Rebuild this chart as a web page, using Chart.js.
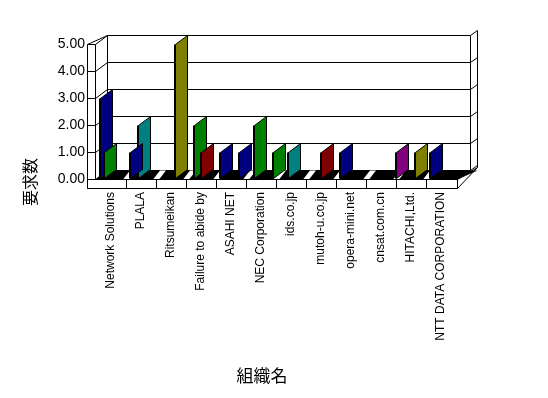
<!DOCTYPE html>
<html>
<head>
<meta charset="utf-8">
<script src="https://cdn.jsdelivr.net/npm/chart.js@4.4.1/dist/chart.umd.min.js"></script>
<style>
  html, body { margin: 0; padding: 0; background: #fff; }
</style>
</head>
<body>
<canvas id="requestChart" width="548" height="398"></canvas>
<script>
// organisations on the x axis
const categories = ['Network Solutions', 'PLALA', 'Ritsumeikan', 'Failure to abide by', 'ASAHI NET',
  'NEC Corporation', 'ids.co.jp', 'mutoh-u.co.jp', 'opera-mini.net', 'cnsat.com.cn',
  'HITACHI,Ltd.', 'NTT DATA CORPORATION'];
const yTicks = [0, 1, 2, 3, 4, 5];

// request counts, one array per bar colour
const navyValues   = [3, 1, 0, 0, 1, 0, 0, 0, 1, 0, 0, 1];
const greenValues  = [1, 0, 0, 2, 0, 2, 0, 0, 0, 0, 0, 0];
const tealValues   = [0, 2, 0, 0, 0, 0, 1, 0, 0, 0, 0, 0];
const maroonValues = [0, 0, 0, 1, 0, 0, 0, 1, 0, 0, 0, 0];
const oliveValues  = [0, 0, 5, 0, 0, 0, 0, 0, 0, 0, 1, 0];
const navy2Values  = [0, 0, 0, 0, 1, 0, 0, 0, 0, 0, 0, 0];
const green2Values = [0, 0, 0, 0, 0, 1, 0, 0, 0, 0, 0, 0];
const purpleValues = [0, 0, 0, 0, 0, 0, 0, 0, 0, 1, 0, 0];

const depthX = 20, depthY = 9;

function line(ctx, pts) {
  ctx.beginPath();
  ctx.moveTo(pts[0][0], pts[0][1]);
  for (let i = 1; i < pts.length; i++) ctx.lineTo(pts[i][0], pts[i][1]);
}

// draws the old style 3D box and the bars instead of the flat ones
const box3d = {
  id: 'box3d',
  beforeDatasetsDraw(chart) {
    const ctx = chart.ctx;
    const a = chart.chartArea;
    const ys = chart.scales.y, xs = chart.scales.x;
    const x0 = Math.round(a.left) - 8.5;
    const x1 = Math.round(a.right) + 1.5;
    const yb = Math.round(a.bottom) + 0.5;
    const yt = Math.round(a.top) + 0.5;
    const xr = x1 + depthX - 7;
    ctx.save();
    ctx.lineWidth = 1;
    ctx.strokeStyle = '#000';
    ctx.fillStyle = '#fff';

    // back wall
    ctx.fillRect(x0 + depthX, yt - depthY, xr - x0 - depthX, yb - yt);
    // grid lines: left wall diagonal + back wall horizontal
    yTicks.forEach(v => {
      const y = Math.round(ys.getPixelForValue(v)) + 0.5;
      line(ctx, [[x0, y], [x0 + 8, y], [x0 + depthX, y - depthY], [xr, y - depthY], [xr + 7, y - depthY - 5]]);
      ctx.stroke();
    });
    // wall outlines
    line(ctx, [[x0, yb], [x0, yt], [x0 + depthX, yt - depthY], [x0 + depthX, yb - depthY]]); ctx.stroke();
    line(ctx, [[x0 + 8, yb], [x0 + 8, yt]]); ctx.stroke();
    line(ctx, [[xr, yt - depthY], [xr, yb - depthY]]); ctx.stroke();
    line(ctx, [[xr + 7, yt - depthY - 5], [xr + 7, yb - depthY - 3], [x1, yb + 9]]); ctx.stroke();

    // floor
    ctx.fillStyle = '#000';
    line(ctx, [[x0 + 8, yb], [x0 + depthX, yb - depthY], [xr + 7, yb - depthY], [x1, yb]]);
    ctx.closePath(); ctx.fill();
    ctx.fillStyle = '#fff';
    for (let i = 1; i < categories.length; i++) {
      const xb = Math.round((xs.getPixelForValue(i - 1) + xs.getPixelForValue(i)) / 2);
      line(ctx, [[xb - 3, yb], [xb + 3, yb], [xb + 10, yb - depthY], [xb + 4, yb - depthY]]);
      ctx.closePath(); ctx.fill();
    }

    // bars: taller ones first so the short ones sit in front
    const bars = [];
    chart.data.datasets.forEach((ds, di) => {
      chart.getDatasetMeta(di).data.forEach((el, i) => {
        if (ds.data[i] > 0) bars.push({el, i, v: ds.data[i], color: ds.backgroundColor});
      });
    });
    bars.sort((p, q) => p.i - q.i || q.v - p.v);
    bars.forEach(b => {
      const left = Math.round(b.el.x - b.el.width / 2) + 3.5;
      const top = Math.round(b.el.y) + 0.5;
      const base = Math.round(b.el.base) - 0.5;
      ctx.fillStyle = '#000';
      ctx.fillRect(left - 0.5, top, 2, base - top);
      ctx.fillStyle = b.color;
      line(ctx, [[left + 1, base], [left + 1, top], [left + 13, top - depthY], [left + 13, base - depthY]]);
      ctx.closePath(); ctx.fill(); ctx.stroke();
    });

    // front base strip
    ctx.fillStyle = '#fff';
    ctx.fillRect(x0, yb, x1 - x0, 9);
    ctx.strokeRect(x0, yb, x1 - x0, 9);
    line(ctx, [[x1, yb], [xr + 7, yb - depthY - 3]]); ctx.stroke();
    for (let i = 1; i < categories.length; i++) {
      const xb = Math.round((xs.getPixelForValue(i - 1) + xs.getPixelForValue(i)) / 2) + 0.5;
      line(ctx, [[xb, yb], [xb, yb + 9]]); ctx.stroke();
    }

    // axis titles
    ctx.fillStyle = '#000';
    ctx.textAlign = 'center';
    ctx.textBaseline = 'middle';
    ctx.font = '17px "Noto Sans CJK JP"';
    ctx.fillText('組織名', 262, 376);
    ctx.font = '16px "Noto Sans CJK JP"';
    ctx.translate(30, 182);
    ctx.rotate(-Math.PI / 2);
    ctx.fillText('要求数', 0, 0);
    ctx.restore();
    return false;
  }
};

const mk = (label, data, color) => ({ label, data, backgroundColor: color });

new Chart(document.getElementById('requestChart'), {
  type: 'bar',
  data: {
    labels: categories,
    datasets: [
      mk('navy', navyValues, '#000080'),
      mk('green', greenValues, '#008000'),
      mk('teal', tealValues, '#008080'),
      mk('maroon', maroonValues, '#800000'),
      mk('olive', oliveValues, '#808000'),
      mk('navy 2', navy2Values, '#000080'),
      mk('green 2', green2Values, '#008000'),
      mk('purple', purpleValues, '#800080')
    ]
  },
  options: {
    responsive: false,
    animation: false,
    categoryPercentage: 1,
    barPercentage: 1,
    layout: { padding: { top: 44, right: 92, left: 0, bottom: 0 } },
    plugins: { legend: { display: false }, tooltip: { enabled: false } },
    scales: {
      x: {
        grid: { display: false, drawTicks: false },
        border: { display: false },
        ticks: {
          color: '#000', padding: 13, maxRotation: 90, minRotation: 90, autoSkip: false,
          font: { family: 'Liberation Sans', size: 12 }
        },
        afterFit: s => { s.height = 219; }
      },
      y: {
        min: 0, max: 5,
        grid: { display: false, drawTicks: false },
        border: { display: false },
        ticks: {
          stepSize: 1, color: '#000', padding: 11,
          font: { family: 'Liberation Sans', size: 14 },
          callback: v => v.toFixed(2)
        },
        afterFit: s => { s.width = 96; }
      }
    }
  },
  plugins: [box3d]
});
</script>
</body>
</html>
